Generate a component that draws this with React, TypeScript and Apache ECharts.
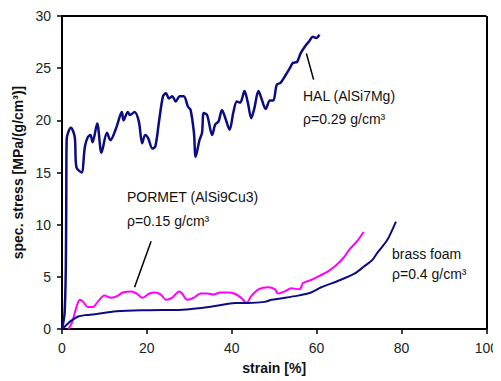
import React, { useEffect, useRef } from "react";
import * as echarts from "echarts";

const halStrain = [0, 0.6, 0.9, 1.0, 1.1, 1.5, 2.1, 3.0, 3.4, 4.6, 5.4, 6.1, 6.7, 7.2, 8.3, 9.3, 10.6, 11.4, 12.8, 14.1, 14.5, 15.5, 16.0, 17.1, 18.1, 18.9, 19.6, 20.3, 21.3, 22.0, 22.9, 23.8, 24.5, 25.2, 26.0, 26.8, 27.7, 28.7, 29.7, 30.3, 31.1, 31.5, 32.4, 33.0, 33.4, 34.2, 35.4, 36.1, 36.9, 37.7, 38.5, 39.5, 40.4, 41.2, 42.0, 43.0, 43.8, 44.6, 45.3, 46.3, 47.0, 48.0, 49.0, 49.8, 50.6, 51.5, 52.5, 53.7, 54.4, 55.4, 56.2, 57.3, 58.3, 59.1, 59.9, 60.7];
const halStress = [0, 1.5, 6, 12, 18.2, 18.9, 19.3, 18.4, 15.5, 15.0, 17.5, 18.4, 18.6, 17.9, 19.7, 16.9, 18.8, 18.1, 19.3, 20.8, 20.0, 20.8, 20.5, 20.8, 19.9, 17.8, 18.6, 18.3, 17.3, 17.5, 20.0, 22.3, 22.6, 22.1, 22.3, 21.8, 22.3, 22.3, 21.3, 21.0, 18.8, 16.5, 18.1, 18.8, 20.7, 20.5, 18.6, 19.6, 19.9, 21.0, 20.2, 19.1, 20.8, 21.8, 21.7, 22.8, 21.7, 20.2, 21.1, 22.8, 22.1, 21.1, 21.9, 21.9, 23.4, 23.6, 24.2, 25.0, 25.5, 25.6, 26.4, 27.1, 27.6, 28.0, 27.9, 28.2];

const pormetStrain = [1.5, 2.3, 3.4, 4.2, 5.0, 6.1, 7.3, 8.4, 10.0, 11.6, 13.2, 14.3, 16.3, 17.6, 19.0, 20.6, 22.0, 23.3, 24.5, 26.0, 27.6, 28.3, 29.5, 31.1, 32.6, 34.2, 35.7, 37.3, 38.9, 40.6, 42.2, 43.5, 44.5, 46.3, 48.6, 50.2, 50.9, 52.5, 54.0, 56.0, 56.8, 58.7, 60.7, 62.6, 64.6, 66.5, 67.7, 69.5, 71.1];
const pormetStress = [0, 0.55, 2.1, 2.8, 2.6, 2.1, 2.1, 2.6, 3.2, 3.0, 3.2, 3.5, 3.6, 3.4, 3.0, 3.4, 3.5, 3.3, 2.8, 3.0, 3.6, 3.4, 2.8, 3.0, 3.4, 3.4, 3.3, 3.5, 3.5, 3.4, 3.0, 2.5, 3.1, 3.8, 4.0, 3.8, 3.4, 3.6, 3.9, 3.8, 4.4, 4.7, 5.1, 5.5, 6.1, 6.9, 7.6, 8.4, 9.3];

const brassStrain = [0, 1.1, 2.2, 3.8, 5.8, 7.3, 12.8, 20.6, 28.3, 36.1, 40.8, 43.9, 47.8, 49.4, 55.6, 58.7, 61.1, 65.0, 68.9, 71.2, 73.1, 74.3, 76.6, 78.7];
const brassStress = [0, 0.4, 0.8, 1.2, 1.35, 1.4, 1.7, 1.8, 1.85, 2.2, 2.5, 2.5, 2.6, 2.8, 3.2, 3.5, 4.0, 4.6, 5.3, 6.0, 6.6, 7.3, 8.5, 10.3];

const xTicks = [0, 20, 40, 60, 80, 100];
const yTicks = [0, 5, 10, 15, 20, 25, 30];

const halLeader = [[57.6, 26.4], [59.3, 23.9]];
const pormetLeader = [[21.0, 8.4], [17.1, 4.0]];

const FONT = "Liberation Sans, Arial, sans-serif";
const W = 501;
const H = 381;
const G = { left: 62, right: 11, top: 16, bottom: 52 };

export default function App() {
  const ref = useRef<HTMLDivElement>(null);
  useEffect(() => {
    const chart = echarts.init(ref.current!, undefined, { renderer: "svg" });
    const zip = (a: number[], b: number[]) => a.map((v, i) => [v, b[i]]);
    const xMin = xTicks[0];
    const xMax = xTicks[xTicks.length - 1];
    const yMin = yTicks[0];
    const yMax = yTicks[yTicks.length - 1];
    const lineSeg = (a: number[], b: number[], width: number) => [
      { coord: a, lineStyle: { color: "#000", width, type: "solid" } },
      { coord: b },
    ];
    const marks = (segs: any[]) => ({
      silent: true,
      symbol: "none",
      label: { show: false },
      lineStyle: { color: "#000", width: 1.5, type: "solid" },
      data: segs,
    });
    const txt = (x: number, y: number, s: string) => ({
      type: "text",
      x,
      y,
      style: { text: s, fill: "#111", font: `14px ${FONT}`, verticalAlign: "top", align: "left" },
    });
    chart.setOption({
      animation: false,
      grid: { ...G },
      xAxis: {
        type: "value",
        min: xMin,
        max: xMax,
        interval: 20,
        name: "strain [%]",
        nameLocation: "middle",
        nameGap: 32,
        nameTextStyle: { fontFamily: FONT, fontWeight: "bold", fontSize: 14, color: "#111" },
        axisLine: { lineStyle: { color: "#000", width: 2 } },
        axisTick: { show: true, length: 5, lineStyle: { color: "#000", width: 1.5 } },
        axisLabel: { fontFamily: FONT, fontSize: 14, color: "#222", margin: 12 },
        splitLine: { show: false },
      },
      yAxis: {
        type: "value",
        min: yMin,
        max: yMax,
        interval: 5,
        name: "spec. stress [MPa/(g/cm³)]",
        nameLocation: "middle",
        nameGap: 36,
        nameTextStyle: { fontFamily: FONT, fontWeight: "bold", fontSize: 14, color: "#111" },
        axisLine: { lineStyle: { color: "#000", width: 2 } },
        axisTick: { show: true, length: 5, lineStyle: { color: "#000", width: 1.5 } },
        axisLabel: { fontFamily: FONT, fontSize: 14, color: "#222", margin: 11 },
        splitLine: { show: false },
      },
      series: [
        {
          name: "HAL (AlSi7Mg)",
          type: "line",
          data: zip(halStrain, halStress),
          showSymbol: false,
          smooth: 0.3,
          lineStyle: { color: "#0c0c82", width: 2.5 },
          markLine: marks([lineSeg(halLeader[0], halLeader[1], 1.5)]),
          z: 3,
        },
        {
          name: "PORMET (AlSi9Cu3)",
          type: "line",
          data: zip(pormetStrain, pormetStress),
          showSymbol: false,
          smooth: 0.3,
          lineStyle: { color: "#ff00ff", width: 2 },
          markLine: marks([lineSeg(pormetLeader[0], pormetLeader[1], 1.5)]),
          z: 2,
        },
        {
          name: "brass foam",
          type: "line",
          data: zip(brassStrain, brassStress),
          showSymbol: false,
          smooth: 0.3,
          clip: false,
          lineStyle: { color: "#0c0c82", width: 2 },
          markLine: marks([
            lineSeg([xMin, yMax], [xMax, yMax], 2),
            lineSeg([xMax, yMax], [xMax, yMin], 2),
          ]),
          z: 2,
        },
      ],
      graphic: [
        txt(303, 89, "HAL (AlSi7Mg)"),
        txt(303, 112, "ρ=0.29 g/cm³"),
        txt(127, 190, "PORMET (AlSi9Cu3)"),
        txt(127, 214, "ρ=0.15 g/cm³"),
        txt(392, 247, "brass foam"),
        txt(392, 267, "ρ=0.4 g/cm³"),
      ],
    });
    return () => chart.dispose();
  }, []);
  return <div ref={ref} style={{ width: W, height: H, marginLeft: -8, marginTop: -8 }} />;
}
